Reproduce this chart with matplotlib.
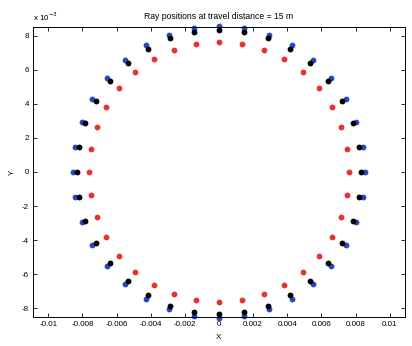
import numpy as np
import matplotlib
matplotlib.use("Agg")
import matplotlib.pyplot as plt

# ray spot positions (units of 1e-3 m), one point every 10 degrees
red_x = [7.62, 7.50, 7.16, 6.60, 5.84, 4.90, 3.81, 2.61, 1.32, 0.00, -1.32, -2.61,
         -3.81, -4.90, -5.84, -6.60, -7.16, -7.50, -7.62, -7.50, -7.16, -6.60, -5.84, -4.90,
         -3.81, -2.61, -1.32, 0.00, 1.32, 2.61, 3.81, 4.90, 5.84, 6.60, 7.16, 7.50]
red_y = [0.00, 1.32, 2.61, 3.81, 4.90, 5.84, 6.60, 7.16, 7.50, 7.62, 7.50, 7.16,
         6.60, 5.84, 4.90, 3.81, 2.61, 1.32, 0.00, -1.32, -2.61, -3.81, -4.90, -5.84,
         -6.60, -7.16, -7.50, -7.62, -7.50, -7.16, -6.60, -5.84, -4.90, -3.81, -2.61, -1.32]

black_x = [8.33, 8.20, 7.83, 7.21, 6.38, 5.35, 4.17, 2.85, 1.45, 0.00, -1.45, -2.85,
           -4.17, -5.35, -6.38, -7.21, -7.83, -8.20, -8.33, -8.20, -7.83, -7.21, -6.38, -5.35,
           -4.17, -2.85, -1.45, 0.00, 1.45, 2.85, 4.17, 5.35, 6.38, 7.21, 7.83, 8.20]
black_y = [0.00, 1.45, 2.85, 4.17, 5.35, 6.38, 7.21, 7.83, 8.20, 8.33, 8.20, 7.83,
           7.21, 6.38, 5.35, 4.17, 2.85, 1.45, 0.00, -1.45, -2.85, -4.17, -5.35, -6.38,
           -7.21, -7.83, -8.20, -8.33, -8.20, -7.83, -7.21, -6.38, -5.35, -4.17, -2.85, -1.45]

blue_x = [8.57, 8.44, 8.05, 7.42, 6.56, 5.51, 4.29, 2.93, 1.49, 0.00, -1.49, -2.93,
          -4.29, -5.51, -6.56, -7.42, -8.05, -8.44, -8.57, -8.44, -8.05, -7.42, -6.56, -5.51,
          -4.29, -2.93, -1.49, 0.00, 1.49, 2.93, 4.29, 5.51, 6.56, 7.42, 8.05, 8.44]
blue_y = [0.00, 1.49, 2.93, 4.29, 5.51, 6.56, 7.42, 8.05, 8.44, 8.57, 8.44, 8.05,
          7.42, 6.56, 5.51, 4.29, 2.93, 1.49, 0.00, -1.49, -2.93, -4.29, -5.51, -6.56,
          -7.42, -8.05, -8.44, -8.57, -8.44, -8.05, -7.42, -6.56, -5.51, -4.29, -2.93, -1.49]

x_ticks = [-0.01, -0.008, -0.006, -0.004, -0.002, 0, 0.002, 0.004, 0.006, 0.008, 0.01]
x_labels = ["-0.01", "-0.008", "-0.006", "-0.004", "-0.002", "0",
            "0.002", "0.004", "0.006", "0.008", "0.01"]
y_ticks = [-8, -6, -4, -2, 0, 2, 4, 6, 8]
y_labels = ["-8", "-6", "-4", "-2", "0", "2", "4", "6", "8"]

plt.rcParams["font.family"] = ["Liberation Sans", "DejaVu Sans"]
fs = 5.8

fig = plt.figure(figsize=(4.12, 3.46), dpi=100)
ax = fig.add_axes([33 / 412, 29 / 346, 372 / 412, 290 / 346])

sc = 1e-3
ms = 4.2
ax.plot(np.array(blue_x) * sc, np.array(blue_y) * sc, "o", color="#2a46c4", ms=ms, mec="none", clip_on=False)
ax.plot(np.array(black_x) * sc, np.array(black_y) * sc, "o", color="black", ms=ms, mec="none", clip_on=False)
ax.plot(np.array(red_x) * sc, np.array(red_y) * sc, "o", color="#e5352b", ms=ms, mec="none", clip_on=False)

ax.set_xlim(-0.0109, 0.0109)
ax.set_ylim(-8.5e-3, 8.5e-3)
ax.set_xticks(x_ticks)
ax.set_xticklabels(x_labels, fontsize=fs)
ax.set_yticks(np.array(y_ticks) * sc)
ax.set_yticklabels(y_labels, fontsize=fs)
ax.tick_params(direction="in", top=True, right=True, length=3, width=0.6, pad=3)
for s in ax.spines.values():
    s.set_linewidth(0.7)

ax.set_title("Ray positions at travel distance = 15 m", fontsize=6.2, pad=6)
ax.set_xlabel("X", fontsize=fs, labelpad=4)
ax.set_ylabel("Y", fontsize=fs, labelpad=4)
ax.text(0.0, 1.015, "x 10$^{-3}$", transform=ax.transAxes, fontsize=fs, ha="left", va="bottom")

fig.savefig("out.png", dpi=100)
